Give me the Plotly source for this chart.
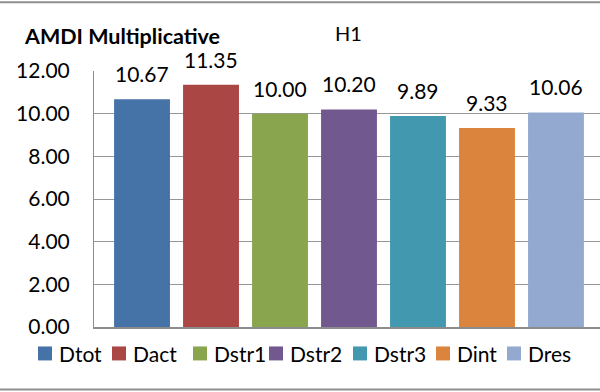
import plotly.graph_objects as go

# Series names, values and colours
series = ["Dtot", "Dact", "Dstr1", "Dstr2", "Dstr3", "Dint", "Dres"]
values = [10.67, 11.35, 10.00, 10.20, 9.89, 9.33, 10.06]
colors = ["#4572A7", "#AA4643", "#89A54E", "#71588F", "#4198AF", "#DB843D", "#93A9CF"]
y_ticks = [0, 2, 4, 6, 8, 10, 12]
y_tick_labels = ["0.00", "2.00", "4.00", "6.00", "8.00", "10.00", "12.00"]

W, H = 600, 392
ML, MR, MT, MB = 94, 0, 71, 64.5
PW, PH = W - ML - MR, H - MT - MB
FONT = "Lato, 'Open Sans', sans-serif"
GRID = "#979797"


def px_x(px):
    """Horizontal pixel -> paper coordinate."""
    return (px - ML) / PW


def px_y(px):
    """Vertical pixel (from top) -> paper coordinate."""
    return (H - MB - px) / PH


fig = go.Figure()
for name, val, col in zip(series, values, colors):
    fig.add_trace(go.Bar(
        x=[name], y=[val], name=name, showlegend=False,
        marker=dict(color=col, line=dict(width=0)),
        width=0.81,
    ))
    # value label above each bar
    fig.add_annotation(
        x=name, y=val, text=f"{val:.2f}", showarrow=False,
        xref="x", yref="y", yanchor="middle", yshift=25.5,
        font=dict(family=FONT, size=21, color="#000000"),
    )

# chart title and series caption
fig.add_annotation(
    text="<b>AMDI Multiplicative</b>", xref="paper", yref="paper",
    x=px_x(22), y=px_y(36), xanchor="left", yanchor="middle", showarrow=False,
    font=dict(family=FONT, size=21.5, color="#000000"),
)
fig.add_annotation(
    text="H1", xref="paper", yref="paper",
    x=px_x(348.5), y=px_y(33), xanchor="center", yanchor="middle", showarrow=False,
    font=dict(family=FONT, size=20, color="#000000"),
)

# legend row below the plot: swatch + name per series
legend_left = [38, 112, 193, 269, 353, 436, 507]
legend_y, sw = 354, 14
for name, col, lx in zip(series, colors, legend_left):
    fig.add_shape(type="rect", xref="paper", yref="paper",
                  x0=px_x(lx), x1=px_x(lx + sw),
                  y0=px_y(legend_y - sw / 2), y1=px_y(legend_y + sw / 2),
                  fillcolor=col, line=dict(width=0))
    fig.add_annotation(
        text=name, xref="paper", yref="paper",
        x=px_x(lx + sw + 5), y=px_y(legend_y), xanchor="left", yanchor="middle",
        showarrow=False, font=dict(family=FONT, size=21, color="#000000"),
    )

# frame lines at top and bottom of the chart area
for ypx in (2, 390):
    fig.add_shape(type="line", xref="paper", yref="paper",
                  x0=px_x(0), x1=px_x(W), y0=px_y(ypx), y1=px_y(ypx),
                  line=dict(color="#8f8f8f", width=2))

fig.update_layout(
    width=W, height=H,
    margin=dict(l=ML, r=MR, t=MT, b=MB, pad=0),
    paper_bgcolor="white", plot_bgcolor="white",
    barmode="overlay",
    showlegend=False,
    xaxis=dict(
        categoryorder="array", categoryarray=series,
        range=[-0.696, 6.638], showticklabels=False, ticks="",
        showgrid=False, showline=True, linecolor="#8c8c8c", linewidth=2,
        zeroline=False, fixedrange=True,
    ),
    yaxis=dict(
        range=[0, 12], tickvals=y_ticks, ticktext=y_tick_labels,
        showgrid=True, gridcolor=GRID, gridwidth=1,
        showline=True, linecolor="#8c8c8c", linewidth=1,
        zeroline=False, ticks="", ticklabelstandoff=19,
        tickfont=dict(family=FONT, size=21, color="#000000"),
    ),
)

fig.write_html("out.html")
